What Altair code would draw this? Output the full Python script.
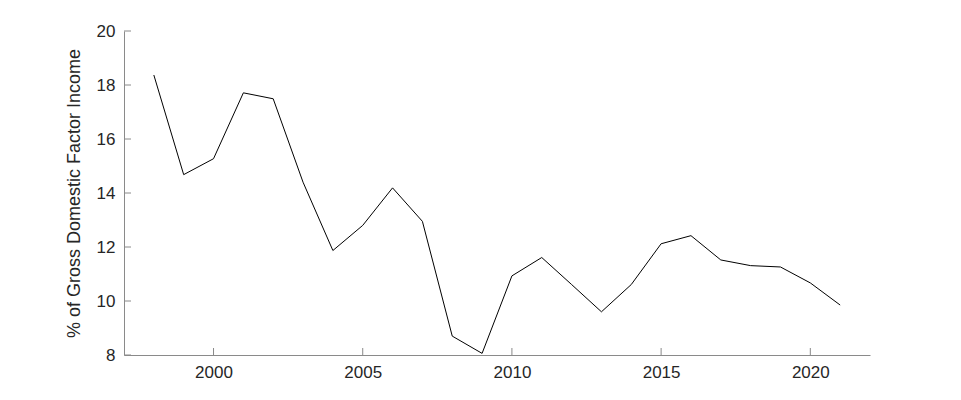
import altair as alt
import pandas as pd

years = list(range(1998, 2022))
values = [18.37, 14.68, 15.27, 17.71, 17.49, 14.40, 11.87, 12.80, 14.19, 12.95,
          8.70, 8.06, 10.93, 11.61, 10.61, 9.60, 10.61, 12.12, 12.42, 11.52,
          11.31, 11.26, 10.67, 9.85]
x_ticks = [2000, 2005, 2010, 2015, 2020]
y_ticks = [8, 10, 12, 14, 16, 18, 20]

W, H = 746, 324
df = pd.DataFrame({"year": years, "value": values})
xt = pd.DataFrame({"year": x_ticks})
yt = pd.DataFrame({"v": y_ticks})

FONT = "Liberation Sans"
AX = "#8a8a8a"

xscale = alt.Scale(domain=[1997, 2022], nice=False, zero=False)
yscale = alt.Scale(domain=[8, 20], nice=False, zero=False)

line = alt.Chart(df).mark_line(color="black", strokeWidth=1).encode(
    x=alt.X("year:Q", scale=xscale,
            axis=alt.Axis(values=x_ticks, format="d", title=None, grid=False,
                          tickSize=0, labelPadding=9, domainColor=AX,
                          labelFont=FONT, labelFontSize=17, labelColor="#262626")),
    y=alt.Y("value:Q", scale=yscale,
            axis=alt.Axis(values=y_ticks, title="% of Gross Domestic Factor Income",
                          grid=False, tickSize=0, labelPadding=9, domainColor=AX,
                          labelFont=FONT, labelFontSize=17, labelColor="#262626",
                          titleFont=FONT, titleFontSize=18, titleFontWeight="normal",
                          titleColor="#262626", titlePadding=13)),
)

xticks = alt.Chart(xt).mark_rule(color=AX, strokeWidth=1).encode(
    x=alt.X("year:Q", scale=xscale),
    y=alt.value(H), y2=alt.value(H - 7),
)
yticks = alt.Chart(yt).mark_rule(color=AX, strokeWidth=1).encode(
    y=alt.Y("v:Q", scale=yscale),
    x=alt.value(0), x2=alt.value(7),
)

chart = alt.layer(xticks, yticks, line).properties(
    width=W, height=H,
    autosize=alt.AutoSizeParams(type="none"),
    padding={"left": 116, "top": 23, "right": 83, "bottom": 37},
).configure(background="white").configure_view(stroke=None)

chart.save("out.html", embed_options={"renderer": "svg", "actions": False})
